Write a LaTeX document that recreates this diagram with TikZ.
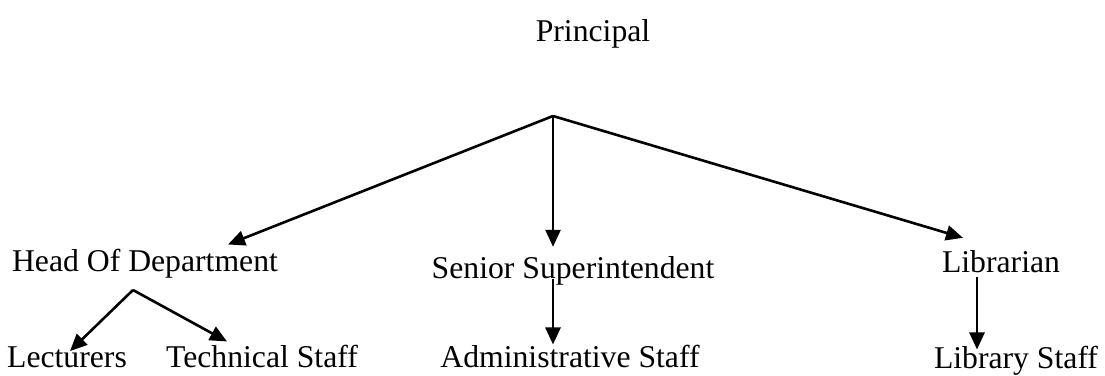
\documentclass[tikz,border=0pt]{standalone}
\usepackage{fontspec}
\setmainfont{Liberation Serif}
\usetikzlibrary{positioning,arrows.meta}
\tikzset{%
  post/.style={font=\fontsize{31.7}{38}\selectfont, inner sep=3pt, anchor=base},% job title
  link/.style={line width=2.6pt, -{Triangle[length=17pt,width=15pt]}}% reporting line
}

\begin{document}
\begin{tikzpicture}[x=1pt, y=-1pt]
\useasboundingbox (0,0) rectangle (1105,375);

\node[post] (principal) at (593, 41)  {Principal};
\node[post] (hod)       at (145, 271) {Head Of Department};
\node[post] (ss)        at (573, 278) {Senior Superintendent};
\node[post] (lib)       at (1001, 272) {Librarian};
\node[post] (lec)       at (67, 367)  {Lecturers};
\node[post] (tech)      at (262, 367) {Technical Staff};
\node[post] (admin)     at (570, 367) {Administrative Staff};
\node[post] (libstaff)  at (1016, 368) {Library Staff};

\coordinate (split)    at (553, 116);
\coordinate (hodsplit) at (133, 290);

\draw[link] (split) -- ([xshift=83pt,yshift=1pt]hod.north);
\draw[link] (split) -- ([xshift=-20pt,yshift=6pt]ss.north);
\draw[link] (split) -- ([xshift=-38pt,yshift=9pt]lib.north);

\draw[link] (hodsplit) -- ([xshift=3pt,yshift=-8pt]lec.north);
\draw[link] (hodsplit) -- ([xshift=-35pt]tech.north);

\draw[link] ([xshift=-20pt,yshift=-1pt]ss.base) -- ([xshift=-17pt,yshift=-3pt]admin.north);
\draw[link] ([xshift=-24pt,yshift=-5pt]lib.base) -- ([xshift=-39pt,yshift=-7pt]libstaff.north);

\end{tikzpicture}
\end{document}
